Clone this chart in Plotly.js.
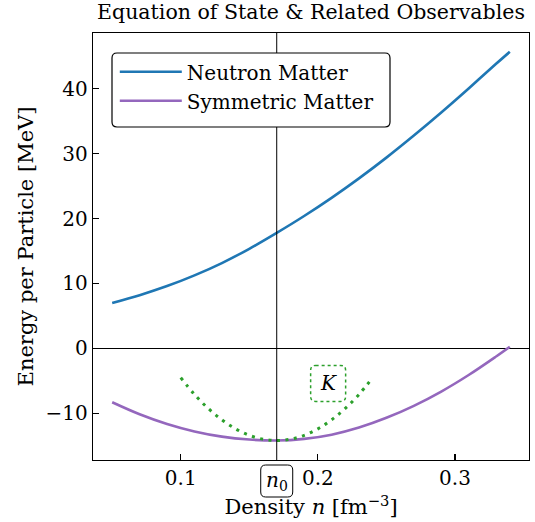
<!DOCTYPE html>
<html>
<head>
<meta charset="utf-8">
<script src="https://cdn.plot.ly/plotly-3.0.1.min.js"></script>
<style>html,body{margin:0;padding:0;background:#fff;}#plot{width:535px;height:522px;}</style>
</head>
<body>
<div id="plot"></div>
<script>
// ---- data ----
const density = [0.05, 0.07, 0.09, 0.11, 0.13, 0.15, 0.17, 0.19, 0.21, 0.23, 0.25, 0.27, 0.29, 0.31, 0.33, 0.34];
const neutronMatter = [7.0, 8.2, 9.6, 11.25, 13.15, 15.35, 17.8, 20.4, 23.2, 26.2, 29.4, 32.8, 36.35, 40.05, 43.85, 45.7];
const symmetricMatter = [-8.3, -10.15, -11.65, -12.8, -13.6, -14.05, -14.2, -13.95, -13.3, -12.2, -10.7, -8.85, -6.65, -4.1, -1.25, 0.25];
const curvDensity = [0.10, 0.11, 0.12, 0.13, 0.14, 0.15, 0.16, 0.17, 0.18, 0.19, 0.20, 0.21, 0.22, 0.23, 0.24];
const curvEnergy = [-4.5, -7.1, -9.25, -11.0, -12.4, -13.4, -14.0, -14.2, -14.0, -13.4, -12.4, -11.0, -9.25, -7.1, -4.5];
const saturationDensity = 0.17;
const kLabelPos = [0.2075, -5.4];
const xTicks = [0.1, 0.2, 0.3];
const xTickText = ['0.1', '0.2', '0.3'];
const yTicks = [-10, 0, 10, 20, 30, 40];

const xRange = [0.036, 0.354];
const yRange = [-17.2, 48.6];
const FONT = 'DejaVu Serif, Liberation Serif, serif';

function roundRect(x0, y0, x1, y1, r) {
  // y0 top (larger), y1 bottom (smaller) in pixel-offset space (y up)
  return `M ${x0 + r} ${y0} L ${x1 - r} ${y0} Q ${x1} ${y0} ${x1} ${y0 - r} L ${x1} ${y1 + r} Q ${x1} ${y1} ${x1 - r} ${y1} L ${x0 + r} ${y1} Q ${x0} ${y1} ${x0} ${y1 + r} L ${x0} ${y0 - r} Q ${x0} ${y0} ${x0 + r} ${y0} Z`;
}

const traces = [
  {x: density, y: neutronMatter, mode: 'lines', name: 'Neutron Matter',
   line: {color: '#1f77b4', width: 2.6, shape: 'spline', smoothing: 1}},
  {x: density, y: symmetricMatter, mode: 'lines', name: 'Symmetric Matter',
   line: {color: '#9467bd', width: 2.6, shape: 'spline', smoothing: 1}},
  {x: curvDensity, y: curvEnergy, mode: 'lines', showlegend: false,
   line: {color: '#2ca02c', width: 3, dash: '3px,5.5px', shape: 'spline'}}
];

const n0Paper = (saturationDensity - xRange[0]) / (xRange[1] - xRange[0]);

const layout = {
  width: 535, height: 522,
  margin: {l: 93, r: 6, t: 33, b: 62},
  paper_bgcolor: '#fff', plot_bgcolor: '#fff',
  font: {family: FONT, color: '#000', size: 20},
  title: {text: 'Equation of State &amp; Related Observables', x: 0.5, xref: 'paper', xanchor: 'center',
          y: 1, yref: 'container', yanchor: 'top', pad: {t: 5},
          font: {family: FONT, size: 20.5, color: '#000'}},
  xaxis: {range: xRange, tickvals: xTicks, ticktext: xTickText, ticks: 'inside', ticklen: 6, tickwidth: 1.2,
          tickcolor: '#000', showline: true, linecolor: '#000', linewidth: 1.3, mirror: true,
          showgrid: false, zeroline: false, tickfont: {size: 20},
          title: {text: 'Density <i>n</i> [fm<sup>−3</sup>]', font: {size: 21}, standoff: 10}},
  yaxis: {range: yRange, tickvals: yTicks, ticks: 'inside', ticklen: 6, tickwidth: 1.2,
          tickcolor: '#000', showline: true, linecolor: '#000', linewidth: 1.3, mirror: true,
          showgrid: false, zeroline: true, zerolinecolor: '#000', zerolinewidth: 1,
          tickfont: {size: 20},
          title: {text: 'Energy per Particle [MeV]', font: {size: 21}, standoff: 6}},
  legend: {x: 0.05, y: 0.955, xanchor: 'left', yanchor: 'top', bgcolor: 'rgba(0,0,0,0)',
           borderwidth: 0, font: {size: 20}, itemwidth: 62, tracegroupgap: 0},
  shapes: [
    {type: 'line', xref: 'x', yref: 'paper', x0: saturationDensity, x1: saturationDensity, y0: 0, y1: 1,
     line: {color: '#000', width: 1}, layer: 'above'},
    {type: 'path', xref: 'paper', yref: 'paper', xsizemode: 'pixel', ysizemode: 'pixel', xanchor: 0, yanchor: 1,
     path: roundRect(19, -20, 297, -94, 5), fillcolor: '#fff', line: {color: '#000', width: 1.2}, layer: 'above'},
    {type: 'path', xref: 'x', yref: 'y', xsizemode: 'pixel', ysizemode: 'pixel',
     xanchor: kLabelPos[0], yanchor: kLabelPos[1],
     path: roundRect(-17.5, 18, 17.5, -18, 5), line: {color: '#2ca02c', width: 1.5, dash: 'dot'}, layer: 'above'},
    {type: 'path', xref: 'paper', yref: 'paper', xsizemode: 'pixel', ysizemode: 'pixel',
     xanchor: n0Paper, yanchor: 0,
     path: roundRect(-16, -5, 16, -37, 5), fillcolor: '#fff', line: {color: '#000', width: 1}, layer: 'above'}
  ],
  annotations: [
    {x: kLabelPos[0], y: kLabelPos[1], xref: 'x', yref: 'y', text: '<i>K</i>', showarrow: false,
     font: {family: FONT, size: 20, color: '#000'}, xanchor: 'center', yanchor: 'middle'},
    {x: n0Paper, y: 0, xref: 'paper', yref: 'paper', yshift: -21, text: '<i>n</i><sub>0</sub>', showarrow: false,
     font: {family: FONT, size: 20, color: '#000'}, xanchor: 'center', yanchor: 'middle'}
  ]
};

Plotly.newPlot('plot', traces, layout, {displayModeBar: false, staticPlot: true});
</script>
</body>
</html>
